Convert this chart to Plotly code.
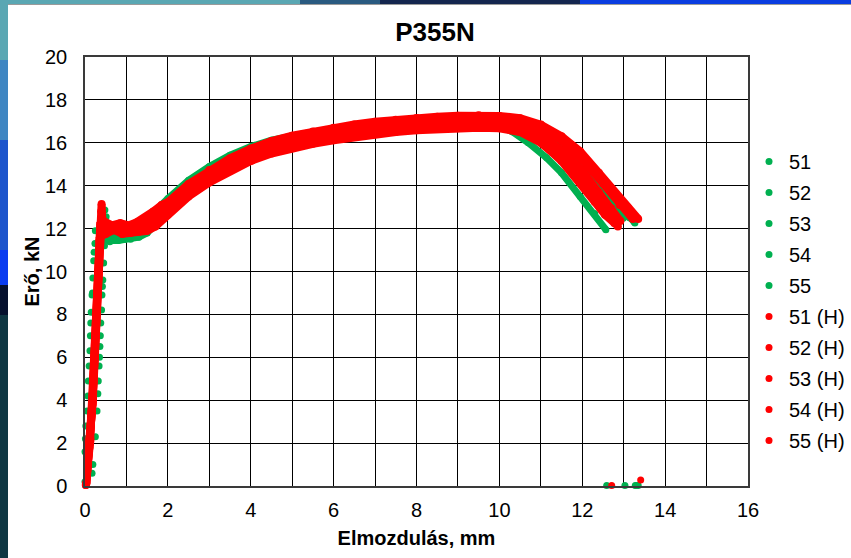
import plotly.graph_objects as go

# ---------------- data ----------------
series_names = ["51", "52", "53", "54", "55", "51 (H)", "52 (H)", "53 (H)", "54 (H)", "55 (H)"]

# discrete points (elastic scatter dots + points after fracture)
g51_pts_x = [0.0, 0.01, 0.31, 0.10, 0.37, 0.15, 0.43, 0.24, 12.59]
g51_pts_y = [0.2, 2.2, 4.3, 5.6, 7.0, 8.1, 9.6, 11.3, 0.02]
g52_pts_x = [0.19, 0.02, 0.32, 0.12, 0.38, 0.18, 0.45, 0.25, 13.03]
g52_pts_y = [1.0, 2.8, 4.9, 6.3, 7.6, 9.0, 10.4, 11.9, 0.02]
g53_pts_x = [0.0, 0.29, 0.08, 0.36, 0.40, 0.17, 0.21, 0.47, 13.28]
g53_pts_y = [1.6, 3.5, 4.9, 6.5, 8.2, 8.9, 10.5, 11.2, 0.02]
g54_pts_x = [0.17, 0.05, 0.34, 0.13, 0.41, 0.19, 0.48, 0.51, 13.31]
g54_pts_y = [0.6, 3.5, 5.6, 7.0, 8.9, 9.7, 12.87, 12.55, 0.02]
g55_pts_x = [0.25, 0.07, 0.35, 0.14, 0.42, 0.22, 0.48, 0.60, 13.35]
g55_pts_y = [2.3, 4.2, 6.0, 7.6, 9.3, 10.9, 11.5, 11.39, 0.02]
r51_pts_x = [0.02, 12.71]
r51_pts_y = [0.05, 0.02]
r52_pts_x = [0.03]
r52_pts_y = [0.1]
r53_pts_x = [0.03, 13.41]
r53_pts_y = [0.15, 0.28]
r54_pts_x = [0.02]
r54_pts_y = [0.05]
r55_pts_x = [0.03]
r55_pts_y = [0.1]

# continuous (dense) parts of the curves
g51_x = [0.36, 0.5, 0.8, 1.1, 1.3, 1.5, 1.7, 2.0, 2.5, 3.0, 3.5, 4.0, 4.5, 5.0, 5.5, 6.0, 6.5, 7.0, 7.5, 8.0, 8.5, 9.0, 9.5, 10.0, 10.33, 10.7, 11.14, 11.5, 11.95, 12.3, 12.57]
g51_y = [11.6, 11.5, 11.45, 11.5, 11.6, 11.8, 12.2, 12.8, 13.65, 14.35, 14.9, 15.35, 15.7, 15.95, 16.15, 16.32, 16.47, 16.6, 16.7, 16.78, 16.82, 16.84, 16.83, 16.78, 16.5, 16.0, 15.3, 14.6, 13.5, 12.7, 11.95]
g52_x = [0.4, 0.6, 0.9, 1.2, 1.4, 1.6, 1.8, 2.0, 2.5, 3.0, 3.5, 4.0, 4.5, 5.0, 5.5, 6.0, 6.5, 7.0, 7.5, 8.0, 8.5, 9.0, 9.5, 10.0, 10.5, 11.0, 11.5, 12.0, 12.5, 12.99]
g52_y = [11.7, 11.55, 11.6, 11.7, 11.9, 12.3, 12.75, 13.2, 14.05, 14.72, 15.22, 15.62, 15.95, 16.18, 16.37, 16.52, 16.66, 16.78, 16.88, 16.96, 17.02, 17.06, 17.08, 17.05, 16.9, 16.45, 15.75, 14.85, 13.6, 12.48]
g53_x = [0.38, 0.55, 0.8, 1.0, 1.3, 1.5, 1.7, 2.0, 2.5, 3.0, 3.5, 4.0, 4.5, 5.0, 5.5, 6.0, 6.5, 7.0, 7.5, 8.0, 8.5, 9.0, 9.5, 10.0, 10.5, 11.0, 11.5, 12.0, 12.5, 12.9, 13.27]
g53_y = [11.8, 11.7, 11.75, 11.85, 12.05, 12.45, 12.85, 13.4, 14.25, 14.9, 15.42, 15.82, 16.12, 16.34, 16.5, 16.64, 16.76, 16.88, 16.98, 17.06, 17.12, 17.16, 17.18, 17.15, 17.02, 16.68, 16.1, 15.25, 14.15, 13.15, 12.26]
g54_x = [0.45, 0.6, 0.85, 1.1, 1.3, 1.5, 1.7, 2.0, 2.5, 3.0, 3.5, 4.0, 4.5, 5.0, 5.5, 6.0, 6.5, 7.0, 7.5, 8.0, 8.5, 9.0, 9.5, 10.0, 10.5, 11.0, 11.5, 12.0, 12.5, 12.8, 13.1]
g54_y = [12.0, 11.6, 11.55, 11.65, 11.85, 12.15, 12.55, 13.1, 13.95, 14.62, 15.15, 15.58, 15.9, 16.14, 16.33, 16.49, 16.63, 16.75, 16.85, 16.93, 16.99, 17.03, 17.05, 17.02, 16.9, 16.55, 15.95, 15.05, 13.9, 13.1, 12.55]
g55_x = [0.5, 0.7, 0.95, 1.2, 1.4, 1.6, 1.8, 2.0, 2.5, 3.0, 3.5, 4.0, 4.5, 5.0, 5.5, 6.0, 6.5, 7.0, 7.5, 8.0, 8.5, 9.0, 9.5, 10.0, 10.5, 11.0, 11.5, 12.0, 12.5, 12.85, 13.15]
g55_y = [11.5, 11.45, 11.5, 11.6, 11.75, 12.05, 12.45, 12.9, 13.75, 14.45, 15.0, 15.45, 15.8, 16.05, 16.25, 16.42, 16.57, 16.7, 16.8, 16.88, 16.94, 16.98, 17.0, 16.98, 16.88, 16.58, 16.02, 15.15, 14.0, 13.1, 12.5]

r51_x = [0.02, 0.12, 0.18, 0.23, 0.27, 0.32, 0.36, 0.38, 0.39, 0.40, 0.42, 0.5, 0.7, 0.9, 1.1, 1.3, 1.5, 1.7, 2.0, 2.5, 3.0, 3.5, 4.0, 4.5, 5.0, 5.5, 6.0, 6.5, 7.0, 7.5, 8.0, 8.5, 9.0, 9.5, 10.0, 10.5, 11.0, 11.5, 11.95, 12.3, 12.6, 12.86]
r51_y = [0.05, 2.0, 4.0, 6.0, 8.0, 10.0, 11.6, 12.3, 12.8, 13.15, 12.3, 11.8, 11.95, 11.75, 11.8, 11.85, 11.9, 12.1, 12.65, 13.5, 14.15, 14.7, 15.15, 15.5, 15.75, 15.95, 16.12, 16.27, 16.4, 16.5, 16.58, 16.64, 16.68, 16.7, 16.68, 16.5, 16.0, 15.2, 14.3, 13.4, 12.7, 12.1]
r52_x = [0.03, 0.13, 0.19, 0.24, 0.28, 0.33, 0.36, 0.39, 0.45, 0.6, 0.8, 1.0, 1.2, 1.4, 1.6, 1.8, 2.0, 2.5, 3.0, 3.5, 4.0, 4.5, 5.0, 5.5, 6.0, 6.5, 7.0, 7.5, 8.0, 8.5, 9.0, 9.5, 10.0, 10.5, 11.0, 11.5, 11.95, 12.3, 12.55, 12.78]
r52_y = [0.1, 2.1, 4.1, 6.1, 8.1, 10.1, 11.7, 12.3, 11.8, 12.1, 11.9, 11.85, 11.95, 12.05, 12.25, 12.5, 12.83, 13.68, 14.33, 14.88, 15.33, 15.68, 15.93, 16.13, 16.3, 16.45, 16.58, 16.68, 16.76, 16.82, 16.86, 16.88, 16.85, 16.62, 16.05, 15.15, 14.15, 13.25, 12.65, 12.25]
r53_x = [0.03, 0.11, 0.18, 0.22, 0.27, 0.32, 0.35, 0.37, 0.45, 0.65, 0.85, 1.05, 1.25, 1.45, 1.65, 1.85, 2.0, 2.5, 3.0, 3.5, 4.0, 4.5, 5.0, 5.5, 6.0, 6.5, 7.0, 7.5, 8.0, 8.5, 9.0, 9.5, 10.0, 10.5, 11.0, 11.5, 11.95, 12.4, 12.8, 13.1, 13.35]
r53_y = [0.15, 1.8, 3.8, 5.8, 7.8, 9.8, 11.4, 12.2, 12.35, 12.15, 12.25, 12.15, 12.3, 12.5, 12.8, 13.1, 13.23, 14.08, 14.73, 15.28, 15.73, 16.08, 16.33, 16.53, 16.7, 16.85, 16.98, 17.08, 17.16, 17.22, 17.26, 17.28, 17.25, 17.15, 16.85, 16.3, 15.6, 14.6, 13.65, 13.0, 12.45]
r54_x = [0.02, 0.12, 0.17, 0.23, 0.26, 0.31, 0.35, 0.37, 0.5, 0.7, 0.9, 1.1, 1.3, 1.5, 1.7, 2.0, 2.5, 3.0, 3.5, 4.0, 4.5, 5.0, 5.5, 6.0, 6.5, 7.0, 7.5, 8.0, 8.5, 9.0, 9.5, 10.0, 10.5, 11.0, 11.5, 12.0, 12.4, 12.7, 12.92]
r54_y = [0.05, 2.0, 4.0, 6.0, 8.0, 10.0, 11.5, 12.1, 11.75, 11.95, 11.8, 11.9, 12.0, 12.15, 12.45, 12.95, 13.8, 14.45, 15.0, 15.45, 15.8, 16.05, 16.25, 16.42, 16.57, 16.7, 16.8, 16.88, 16.94, 16.98, 17.0, 16.98, 16.82, 16.35, 15.65, 14.7, 13.7, 12.95, 12.35]
r55_x = [0.03, 0.13, 0.18, 0.23, 0.27, 0.32, 0.36, 0.39, 0.55, 0.75, 0.95, 1.15, 1.35, 1.55, 1.75, 2.0, 2.5, 3.0, 3.5, 4.0, 4.5, 5.0, 5.5, 6.0, 6.5, 7.0, 7.5, 8.0, 8.5, 9.0, 9.5, 10.0, 10.5, 11.0, 11.5, 12.0, 12.5, 12.9, 13.22]
r55_y = [0.1, 2.2, 3.9, 5.9, 7.9, 9.9, 11.6, 12.2, 11.95, 12.15, 12.0, 12.05, 12.15, 12.35, 12.65, 13.07, 13.92, 14.57, 15.12, 15.57, 15.92, 16.17, 16.37, 16.54, 16.69, 16.82, 16.92, 17.0, 17.06, 17.1, 17.12, 17.1, 17.0, 16.68, 16.1, 15.2, 14.1, 13.1, 12.45]

x_ticks = [0, 2, 4, 6, 8, 10, 12, 14, 16]
y_ticks = [0, 2, 4, 6, 8, 10, 12, 14, 16, 18, 20]

GREEN = "#00B050"
RED = "#FF0000"
FONT = "Arial, Liberation Sans, sans-serif"

pts = [(g51_pts_x, g51_pts_y), (g52_pts_x, g52_pts_y), (g53_pts_x, g53_pts_y), (g54_pts_x, g54_pts_y), (g55_pts_x, g55_pts_y),
       (r51_pts_x, r51_pts_y), (r52_pts_x, r52_pts_y), (r53_pts_x, r53_pts_y), (r54_pts_x, r54_pts_y), (r55_pts_x, r55_pts_y)]
curves = [(g51_x, g51_y), (g52_x, g52_y), (g53_x, g53_y), (g54_x, g54_y), (g55_x, g55_y),
          (r51_x, r51_y), (r52_x, r52_y), (r53_x, r53_y), (r54_x, r54_y), (r55_x, r55_y)]

# ---------------- figure ----------------
W, H = 851, 558
L, R, T, B = 85, 103, 57, 72
PW, PH = W - L - R, H - T - B


def px2x(p):
    return (p - L) / PW


def py2y(p):
    return (H - B - p) / PH


fig = go.Figure()
for i, name in enumerate(series_names):
    col = GREEN if i < 5 else RED
    width = 7 if i < 5 else 8
    cx, cy = curves[i]
    fig.add_trace(go.Scatter(x=cx, y=cy, mode="lines+markers", name=name, legendgroup=name,
                             showlegend=False, line=dict(color=col, width=width),
                             marker=dict(color=col, size=width), cliponaxis=False, hoverinfo="skip"))
    px_, py_ = pts[i]
    fig.add_trace(go.Scatter(x=px_, y=py_, mode="markers", name=name, legendgroup=name,
                             showlegend=True, marker=dict(color=col, size=7), cliponaxis=False))

# decorative screenshot background strips around the white chart area
strip_shapes = []
left_bands = [(0, 60, "#5aa7b3"), (60, 140, "#3f86c2"), (140, 250, "#1d55cc"), (250, 285, "#0a3cf0"),
              (285, 315, "#06112e"), (315, 558, "#0f3743")]
for y0, y1, c in left_bands:
    strip_shapes.append(dict(type="rect", xref="paper", yref="paper", x0=px2x(0), x1=px2x(8),
                             y0=py2y(y1), y1=py2y(y0), fillcolor=c, line=dict(width=0), layer="above"))
top_bands = [(0, 300, "#5aa7b3"), (300, 380, "#2a5a80"), (380, 580, "#14264e"), (580, 851, "#0a3de0")]
for x0, x1, c in top_bands:
    strip_shapes.append(dict(type="rect", xref="paper", yref="paper", x0=px2x(x0), x1=px2x(x1),
                             y0=py2y(4), y1=py2y(0), fillcolor=c, line=dict(width=0), layer="above"))
strip_shapes.append(dict(type="line", xref="paper", yref="paper", x0=px2x(8), x1=px2x(851),
                         y0=py2y(4.5), y1=py2y(4.5), line=dict(color="#9a9a9a", width=1)))

axis_common = dict(showline=True, mirror=True, linecolor="#3a3a3a", linewidth=1.5,
                   gridcolor="#000000", gridwidth=1, zeroline=False, ticks="",
                   tickfont=dict(family=FONT, size=20, color="#000000"))

fig.update_layout(
    width=W, height=H,
    margin=dict(l=L, r=R, t=T, b=B, autoexpand=False),
    paper_bgcolor="#ffffff", plot_bgcolor="#ffffff",
    title=dict(text="P355N", x=435 / W, xref="container", xanchor="center",
               y=1 - 32 / H, yref="container", yanchor="middle",
               font=dict(family=FONT, size=26, color="#000000", weight="bold")),
    xaxis=dict(range=[0, 16], tickvals=x_ticks, ticktext=[str(v) for v in x_ticks],
               minor=dict(dtick=1, tick0=0, showgrid=True, gridcolor="#000000", gridwidth=1),
               ticklabelstandoff=5,
               title=dict(text="Elmozdulás, mm", standoff=11,
                          font=dict(family=FONT, size=20, color="#000000", weight="bold")),
               **axis_common),
    yaxis=dict(range=[0, 20], tickvals=y_ticks, ticktext=[str(v) for v in y_ticks],
               ticklabelstandoff=12,
               title=dict(text="Erő, kN", standoff=0,
                          font=dict(family=FONT, size=20, color="#000000", weight="bold")),
               **axis_common),
    legend=dict(x=px2x(749), xanchor="left", y=py2y(142), yanchor="top",
                font=dict(family=FONT, size=20, color="#000000"),
                bgcolor="rgba(0,0,0,0)", tracegroupgap=2, itemclick=False),
    shapes=strip_shapes,
    showlegend=True,
)

# the page should start at the window's top-left corner, like the reference screenshot
fig.write_html("out.html", config={"displayModeBar": False},
               post_script="document.body.style.margin='0';")
